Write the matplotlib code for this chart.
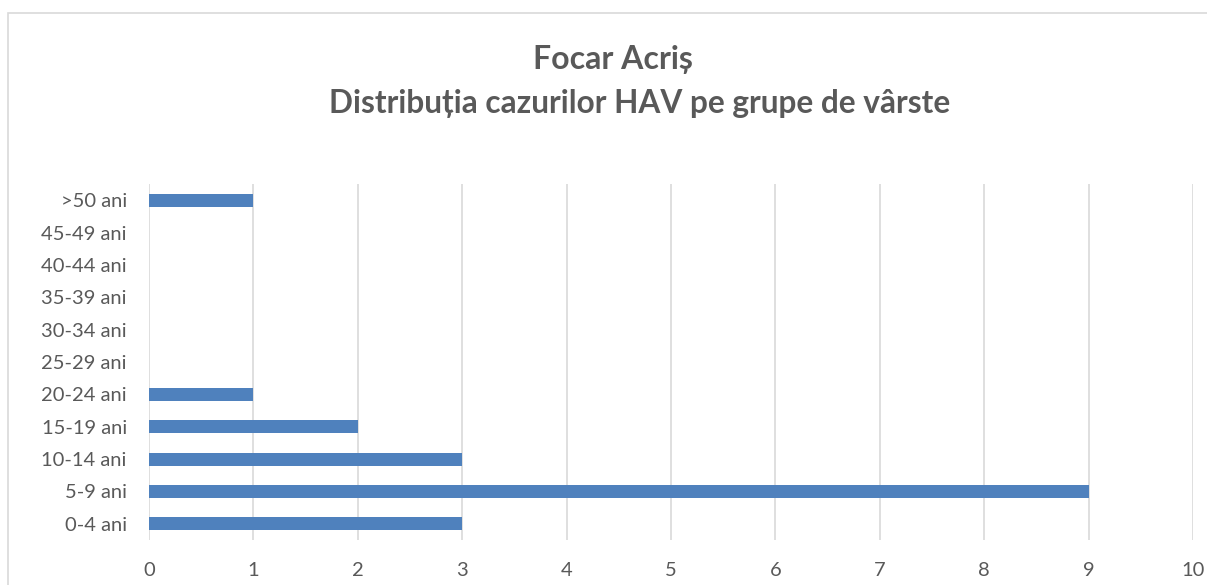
import matplotlib.pyplot as plt
from matplotlib.patches import Rectangle

# date
grupe = ["0-4 ani", "5-9 ani", "10-14 ani", "15-19 ani", "20-24 ani", "25-29 ani",
         "30-34 ani", "35-39 ani", "40-44 ani", "45-49 ani", ">50 ani"]
cazuri = [3, 9, 3, 2, 1, 0, 0, 0, 0, 0, 1]
x_ticks = list(range(0, 11))
titlu_1 = "Focar Acriș"
titlu_2 = "Distribuția cazurilor HAV pe grupe de vârste"

plt.rcParams['font.family'] = ['Lato', 'DejaVu Sans']
gri_text = '#595959'

fig = plt.figure(figsize=(12.07, 5.85), dpi=100)
W, H = 1207, 585
ax = fig.add_axes([149 / W, 1 - 540 / H, (1193 - 149) / W, (540 - 184) / H])

# chenarul graficului
fig.patches.append(Rectangle((8 / W, -0.1), 1.1, 1 - 13 / H + 0.1, transform=fig.transFigure,
                             fill=False, edgecolor='#D9D9D9', linewidth=1.2))

ax.barh(range(len(grupe)), cazuri, height=0.4, color='#4F81BD', zorder=3)

ax.set_xlim(0, 10)
ax.set_ylim(-0.5, len(grupe) - 0.5)
ax.set_xticks(x_ticks)
ax.set_yticks(range(len(grupe)))
ax.set_yticklabels(grupe)
ax.tick_params(axis='both', length=0, labelsize=14.5, colors=gri_text)
ax.tick_params(axis='x', pad=16)
ax.tick_params(axis='y', pad=16)
ax.grid(True, axis='x', color='#D9D9D9', linewidth=1.2, zorder=0)
for s in ax.spines.values():
    s.set_visible(False)

fig.text(613 / W, 1 - 60 / H, titlu_1, ha='center', va='center', fontsize=23,
         fontweight='bold', color=gri_text)
fig.text(640 / W, 1 - 104 / H, titlu_2, ha='center', va='center', fontsize=22.8,
         fontweight='bold', color=gri_text)

fig.savefig('out.png', dpi=100)
